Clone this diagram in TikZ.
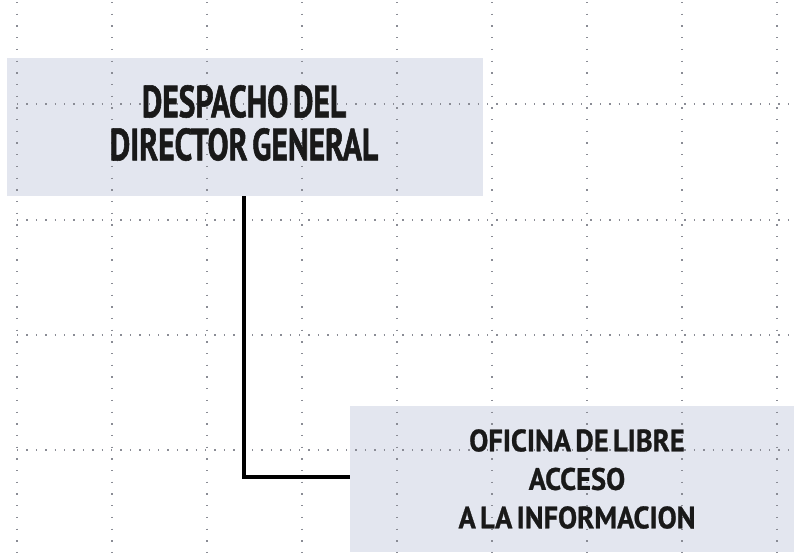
\documentclass[tikz,border=0pt]{standalone}
\usepackage{fontspec}
\newfontfamily\topfont[FakeStretch=0.70, WordSpace=0.6, FakeBold=1.2]{PT Sans}
\newfontfamily\botfont[FakeStretch=0.92, WordSpace=0.6, FakeBold=0.8]{PT Sans}
\definecolor{boxfill}{HTML}{E3E6EF}
\definecolor{griddot}{HTML}{8A8C95}
\begin{document}
\begin{tikzpicture}[x=1pt,y=-1pt,
  orgbox/.style={fill=boxfill, draw=none},
  vgrid/.style={griddot, line width=1.3pt, dash pattern=on 1.3pt off 10.4pt},
  hgrid/.style={griddot, line width=1.3pt, dash pattern=on 1.3pt off 8.1pt},
  conn/.style={line width=3.6pt, black},
  bigtext/.style={font=\topfont\bfseries\fontsize{45}{45}\selectfont, align=center, text=black!90},
  smalltext/.style={font=\botfont\bfseries\fontsize{31}{38.5}\selectfont, align=center, text=black!90}]
\useasboundingbox (0,0) rectangle (794,552);
\fill[white] (0,0) rectangle (794,552);
% boxes
\path[orgbox] (7,58) rectangle (483,196);
\path[orgbox] (350,406) rectangle (794,552);
% grid
\foreach \gx in {17,112,207,302,397,492,587,682,777}
  \draw[vgrid] (\gx,2) -- (\gx,552);
\foreach \gy in {104,220,335,450}
  \draw[hgrid] (17,\gy) -- (794,\gy);
% nodes
\node[bigtext] (top) at (244,123) {DESPACHO DEL\\[-2pt]DIRECTOR GENERAL};
\coordinate (topbottom) at (244,196);
\node[smalltext] (bot) at (577,479) {OFICINA DE LIBRE\\ACCESO\\A LA INFORMACION};
\coordinate (botleft) at (350,477);
\draw[conn] (topbottom) |- (botleft);
\end{tikzpicture}
\end{document}
